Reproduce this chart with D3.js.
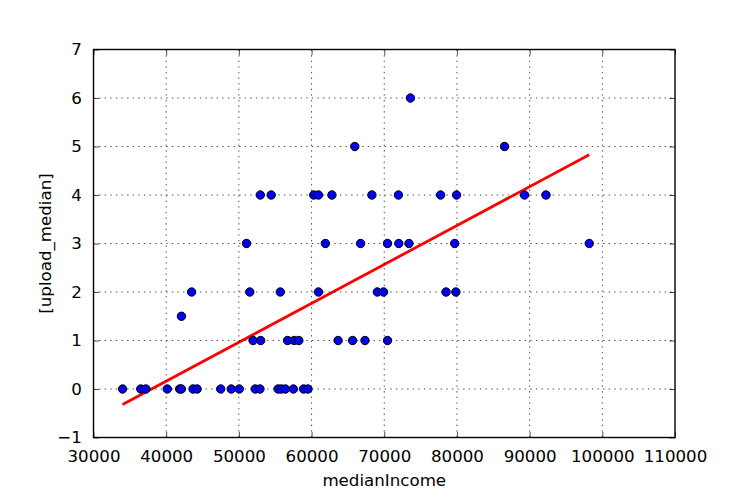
<!DOCTYPE html>
<html>
<head>
<meta charset="utf-8">
<script src="https://cdn.jsdelivr.net/npm/d3@7"></script>
<style>
  html, body { margin: 0; padding: 0; background: #ffffff; }
  svg { display: block; }
  text { font-family: "DejaVu Sans", sans-serif; fill: #000; }
</style>
</head>
<body>
<script>
// ---- data ----
const medianIncome = [
  34000, 36500, 37200, 40150, 41850, 42100, 43700, 44250, 47500, 48950, 50050, 52250, 52900, 55400, 55850, 56400, 57500, 58900, 59500,
  51950, 53000, 56700, 57600, 58250, 63650, 65650, 67350, 70450,
  42100,
  43500, 51500, 55700, 60950, 69050, 69900, 78500, 79850,
  51050, 61900, 66750, 70450, 72000, 73400, 79700, 98200,
  52950, 54450, 60300, 60950, 62800, 68300, 71950, 77750, 79950, 89300, 92250,
  65950, 86550,
  73600
];
const uploadMedian = [
  0, 0, 0, 0, 0, 0, 0, 0, 0, 0, 0, 0, 0, 0, 0, 0, 0, 0, 0,
  1, 1, 1, 1, 1, 1, 1, 1, 1,
  1.5,
  2, 2, 2, 2, 2, 2, 2, 2,
  3, 3, 3, 3, 3, 3, 3, 3,
  4, 4, 4, 4, 4, 4, 4, 4, 4, 4, 4,
  5, 5,
  6
];
// fitted trend line end points
const fitX = [34000, 98200];
const fitY = [-0.32, 4.83];
const xTicks = [30000, 40000, 50000, 60000, 70000, 80000, 90000, 100000, 110000];
const yTicks = [-1, 0, 1, 2, 3, 4, 5, 6, 7];
const xLabel = "medianIncome";
const yLabel = "[upload_median]";

// ---- layout ----
const W = 750, H = 500;
const pL = 93.5, pR = 675, pT = 49.5, pB = 437.5;

const svg = d3.select("body").append("svg").attr("width", W).attr("height", H);

const x = d3.scaleLinear().domain([30000, 110000]).range([pL, pR]);
const y = d3.scaleLinear().domain([-1, 7]).range([pB, pT]);

const fmtY = d => (d < 0 ? "\u2212" + Math.abs(d) : String(d));

// trend line
const pts = fitX.map((v, i) => [v, fitY[i]]);
svg.append("path")
  .attr("d", d3.line().x(d => x(d[0])).y(d => y(d[1]))(pts))
  .attr("fill", "none").attr("stroke", "#ff0000").attr("stroke-width", 2.8)
  .attr("stroke-linecap", "butt");

// points
svg.append("g").selectAll("circle")
  .data(medianIncome.map((v, i) => [v, uploadMedian[i]]))
  .join("circle")
  .attr("cx", d => x(d[0])).attr("cy", d => y(d[1]))
  .attr("r", 4.2)
  .attr("fill", "#0000ff").attr("stroke", "#000").attr("stroke-width", 1);

// grid (drawn above data, matplotlib classic)
const grid = svg.append("g").attr("stroke", "#000").attr("stroke-width", 0.7)
  .attr("stroke-dasharray", "1.4,4.2");
grid.selectAll("line.gx").data(xTicks.slice(1, -1)).join("line")
  .attr("x1", d => x(d)).attr("x2", d => x(d)).attr("y1", pT).attr("y2", pB);
grid.selectAll("line.gy").data(yTicks.slice(1, -1)).join("line")
  .attr("x1", pL).attr("x2", pR).attr("y1", d => y(d)).attr("y2", d => y(d));

// axes with inward ticks on all sides
const tickLen = 5.6;
const axB = d3.axisBottom(x).tickValues(xTicks).tickSizeInner(-tickLen).tickSizeOuter(0).tickPadding(tickLen + 7).tickFormat(d3.format("d"));
const axT = d3.axisTop(x).tickValues(xTicks).tickSizeInner(-tickLen).tickSizeOuter(0).tickFormat("");
const axL = d3.axisLeft(y).tickValues(yTicks).tickSizeInner(-tickLen).tickSizeOuter(0).tickPadding(tickLen + 6).tickFormat(fmtY);
const axR = d3.axisRight(y).tickValues(yTicks).tickSizeInner(-tickLen).tickSizeOuter(0).tickFormat("");

function style(g) {
  g.select(".domain").remove();
  g.selectAll(".tick line").attr("stroke", "#000").attr("stroke-width", 0.7);
  g.selectAll(".tick text").attr("font-family", "DejaVu Sans").attr("font-size", 16.67).attr("fill", "#000");
}
svg.append("g").attr("transform", `translate(0,${pB})`).call(axB).call(style);
svg.append("g").attr("transform", `translate(0,${pT})`).call(axT).call(style);
svg.append("g").attr("transform", `translate(${pL},0)`).call(axL).call(style);
svg.append("g").attr("transform", `translate(${pR},0)`).call(axR).call(style);

// frame
svg.append("rect").attr("x", pL).attr("y", pT).attr("width", pR - pL).attr("height", pB - pT)
  .attr("fill", "none").attr("stroke", "#000").attr("stroke-width", 1.4);

// axis labels
svg.append("text").attr("x", (pL + pR) / 2).attr("y", 486)
  .attr("text-anchor", "middle").attr("font-size", 16.67).text(xLabel);
svg.append("text").attr("transform", `translate(51,${(pT + pB) / 2}) rotate(-90)`)
  .attr("text-anchor", "middle").attr("font-size", 16.67).text(yLabel);
</script>
</body>
</html>
